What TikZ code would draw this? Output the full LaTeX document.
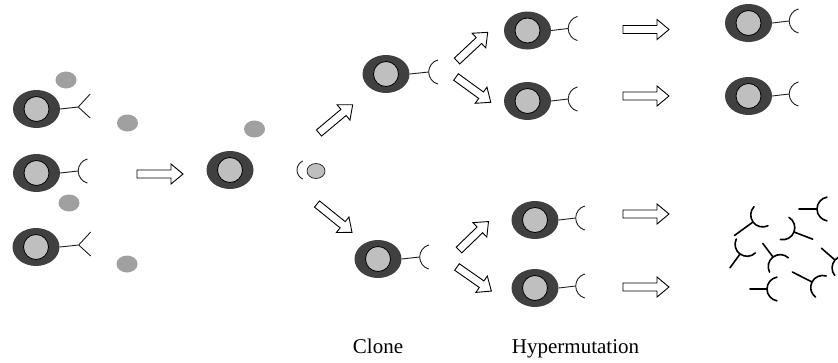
\documentclass[tikz,border=0pt]{standalone}
\usepackage{fontspec}
\setmainfont{Liberation Serif}
\usetikzlibrary{shapes.geometric}
\definecolor{celldark}{HTML}{404040}
\definecolor{nucgray}{HTML}{BFBFBF}
\definecolor{aggray}{HTML}{A0A0A0}
\definecolor{inkline}{HTML}{1E1E1E}

% cell = dark cytoplasm ring + light nucleus
\newcommand\lymph[3]{%
  \node[cellbody] (#1) at (#2,#3) {};
  \node[nucleus] (#1n) at (#1) {};}
% hollow block arrow: tail point, direction (deg), length
\newcommand\blockarrow[3]{%
  \draw[arrowline, shift={#1}, rotate=#2]
    (0,-4) -- (#3-12,-4) -- (#3-12,-10) -- (#3,0) -- (#3-12,10) -- (#3-12,4) -- (0,4) -- cycle;}
% free-floating receptor fragment: junction, stem length, opening direction (deg)
\newcommand\fragment[3]{%
  \draw[fragline, shift={#1}, rotate=#3]
    (-#2,0) -- (0,0) arc[start angle=180, end angle=100, radius=12]
    (0,0) arc[start angle=180, end angle=260, radius=12];}

\begin{document}
\begin{tikzpicture}[x=1pt, y=-1pt,
  cellbody/.style={ellipse, fill=celldark, minimum width=47pt, minimum height=38pt, inner sep=0pt},
  nucleus/.style={circle, draw=black, line width=0.8pt, fill=nucgray, minimum size=25pt, inner sep=0pt},
  antigen/.style={ellipse, fill=aggray, minimum width=21pt, minimum height=17pt, inner sep=0pt},
  stem/.style={draw=inkline, line width=0.9pt},
  fragline/.style={draw=black, line width=1.6pt, line cap=round},
  arrowline/.style={draw=black, line width=0.9pt, fill=white, line join=miter},
  lbl/.style={font=\fontsize{21}{25}\selectfont, inner sep=0pt},
  fork/.pic={\draw[stem] (0,0) -- (12,-13) (0,0) -- (12,11);},
  cup/.pic={\draw[stem] (0,0) arc[start angle=180, end angle=105, radius=12.5]
                        (0,0) arc[start angle=180, end angle=255, radius=12.5];}
]
\clip (0,0) rectangle (838,362);
\fill[white] (0,0) rectangle (838,362);

% ---- initial repertoire with antigens
\lymph{La}{36.5}{109}
\lymph{Lb}{36.5}{173}
\lymph{Lc}{36}{247}
\draw[stem] (La.east) -- ++(18,-2) coordinate (Lar); \pic at (Lar) {fork};
\draw[stem] (Lb.east) -- ++(18,-2) coordinate (Lbr); \pic at (Lbr) {cup};
\draw[stem] (Lc.east) -- ++(19,-2) coordinate (Lcr); \pic at (Lcr) {fork};

\node[antigen] (ag1) at (66,80) {};
\node[antigen] (ag2) at (127.5,123) {};
\node[antigen] (ag3) at (69,203) {};
\node[antigen] (ag4) at (127,264) {};

\blockarrow{(137,174)}{0}{46}

% ---- selected cell and bound antigen
\lymph{Sel}{230}{170}
\node[antigen] (ag5) at (254.5,129) {};
\coordinate (bind) at (297,170);
\draw[stem] (bind) arc[start angle=180, end angle=115, radius=10]
            (bind) arc[start angle=180, end angle=245, radius=10];
\node[antigen, draw=inkline, line width=0.7pt, fill=nucgray, minimum width=18pt, minimum height=15pt] (ag6) at (316,171) {};

\blockarrow{(319,133)}{40}{44}
\blockarrow{(317,204)}{-39}{45}

% ---- clones
\lymph{Cu}{386}{74}
\lymph{Cd}{378}{259}
\draw[stem] (Cu.east) -- ++(19,-2) coordinate (Cur); \pic at (Cur) {cup};
\draw[stem] (Cd.east) -- ++(18,-2) coordinate (Cdr); \pic at (Cdr) {cup};

\blockarrow{(457,61)}{43}{42}
\blockarrow{(456,77)}{-36}{43}
\blockarrow{(459,250)}{44}{41}
\blockarrow{(457,267)}{-35}{42}

% ---- mutated clones
\lymph{Ma}{527.5}{30.5}
\lymph{Mb}{527.5}{101}
\lymph{Mc}{535}{220}
\lymph{Md}{535}{288}
\draw[stem] (Ma.east) -- ++(17,-2) coordinate (Mar); \pic at (Mar) {cup};
\draw[stem] (Mb.east) -- ++(17,-2) coordinate (Mbr); \pic at (Mbr) {cup};
\draw[stem] (Mc.east) -- ++(17,-2) coordinate (Mcr); \pic at (Mcr) {cup};
\draw[stem] (Md.east) -- ++(17,-2) coordinate (Mdr); \pic at (Mdr) {cup};

\blockarrow{(623,29.5)}{0}{46}
\blockarrow{(623,96)}{0}{46}
\blockarrow{(623,214)}{0}{46}
\blockarrow{(623,287)}{0}{46}

% ---- surviving cells
\lymph{Ra}{748.5}{23}
\lymph{Rb}{748.5}{96}
\draw[stem] (Ra.east) -- ++(17,-2) coordinate (Rar); \pic at (Rar) {cup};
\draw[stem] (Rb.east) -- ++(17,-2) coordinate (Rbr); \pic at (Rbr) {cup};

% ---- discarded receptor fragments
\fragment{(817,209)}{18}{0}
\fragment{(753,222)}{23}{36}
\fragment{(794,232)}{20}{159}
\fragment{(740,254)}{17}{54}
\fragment{(773,257)}{17}{-53}
\fragment{(835,260)}{18}{-41}
\fragment{(812,282)}{22}{-27}
\fragment{(767,289)}{17}{0}

% ---- captions
\node[lbl, anchor=base] (clone) at (378,353) {Clone};
\node[lbl, anchor=base] (hyper) at (575.5,353) {Hypermutation};
\end{tikzpicture}
\end{document}
